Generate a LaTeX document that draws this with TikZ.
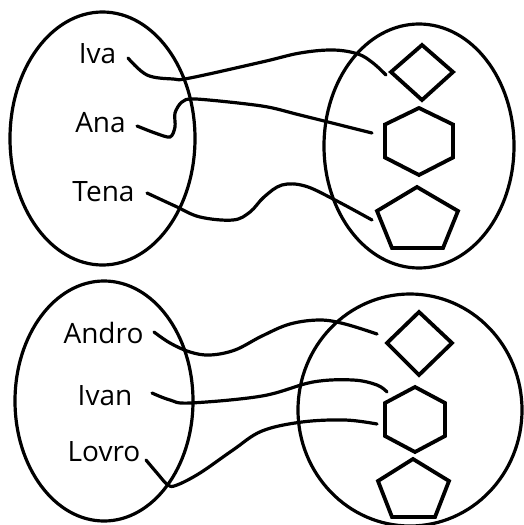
\documentclass[tikz,border=0pt]{standalone}
\usepackage{fontspec}
\setmainfont{Open Sans}
\begin{document}
\begin{tikzpicture}[x=1pt,y=-1pt,
  setbox/.style={line width=3.2pt},
  shapebox/.style={line width=3.8pt},
  link/.style={line width=3.2pt, line cap=round},
  lbl/.style={anchor=base, inner sep=0pt, font=\fontsize{28}{30}\selectfont}]
\useasboundingbox (0,0) rectangle (523,525);
% sets
\draw[setbox] (102.5,138.5) ellipse [x radius=92.5, y radius=126.5];
\draw[setbox] (419,146) ellipse [x radius=95, y radius=122];
\draw[setbox] (104,401) ellipse [x radius=89, y radius=120];
\draw[setbox] (410,410) ellipse [x radius=112, y radius=116];
% labels
\node[lbl] (iva) at (97.5,63) {Iva};
\node[lbl] (ana) at (100.5,132) {Ana};
\node[lbl] (tena) at (103.5,201) {Tena};
\node[lbl] (andro) at (103.5,343) {Andro};
\node[lbl] (ivan) at (105,405) {Ivan};
\node[lbl] (lovro) at (104,461) {Lovro};
% shapes (top)
\draw[shapebox] (422,45) -- (453,72) -- (422,100) -- (391,72) -- cycle;
\draw[shapebox] (419,108) -- (453,124.5) -- (453,157.5) -- (419,175) -- (385,157.5) -- (385,124.5) -- cycle;
\draw[shapebox] (417,187) -- (458,211) -- (443,248) -- (392,248) -- (377,211) -- cycle;
% shapes (bottom)
\draw[shapebox] (419,312) -- (452,343) -- (419,375) -- (387,343) -- cycle;
\draw[shapebox] (415,387) -- (445,403) -- (445,436) -- (415,452) -- (385,436) -- (385,403) -- cycle;
\draw[shapebox] (413,459) -- (449,481) -- (435,517) -- (392,517) -- (378,481) -- cycle;
% connector ends
\coordinate (ivaS) at (128,58);   \coordinate (ivaE) at (386,75);
\coordinate (anaS) at (137,126);  \coordinate (anaE) at (372,133);
\coordinate (tenaS) at (147,193); \coordinate (tenaE) at (372,220);
\coordinate (androS) at (154,332);\coordinate (androE) at (377,334);
\coordinate (ivanS) at (152,393); \coordinate (ivanE) at (387,392);
\coordinate (lovroS) at (146,460);\coordinate (lovroE) at (377,424);
% connectors
\draw[link] plot[smooth, tension=0.6] coordinates {(ivaS) (147,75) (173,79) (190,78) (262,62) (300,53) (333,50) (358,54) (373,63) (ivaE)};
\draw[link] plot[smooth, tension=0.5] coordinates {(anaS) (155,133) (170,137) (175,127) (175,113) (182,102) (196,99) (262,106) (300,115) (anaE)};
\draw[link] plot[smooth, tension=0.6] coordinates {(tenaS) (175,206) (200,217) (233,220) (250,212) (264,197) (282,185) (305,186) (335,200) (tenaE)};
\draw[link] plot[smooth, tension=0.6] coordinates {(androS) (170,343) (190,352) (210,355) (235,350) (262,336) (290,324) (320,320) (345,324) (androE)};
\draw[link] plot[smooth, tension=0.6] coordinates {(ivanS) (170,400) (190,403) (262,396) (313,382) (353,380) (377,385) (ivanE)};
\draw[link] plot[smooth, tension=0.6] coordinates {(lovroS) (157,473) (168,485) (177,485) (200,473) (233,450) (262,431) (302,422) (345,420) (lovroE)};
\end{tikzpicture}
\end{document}
